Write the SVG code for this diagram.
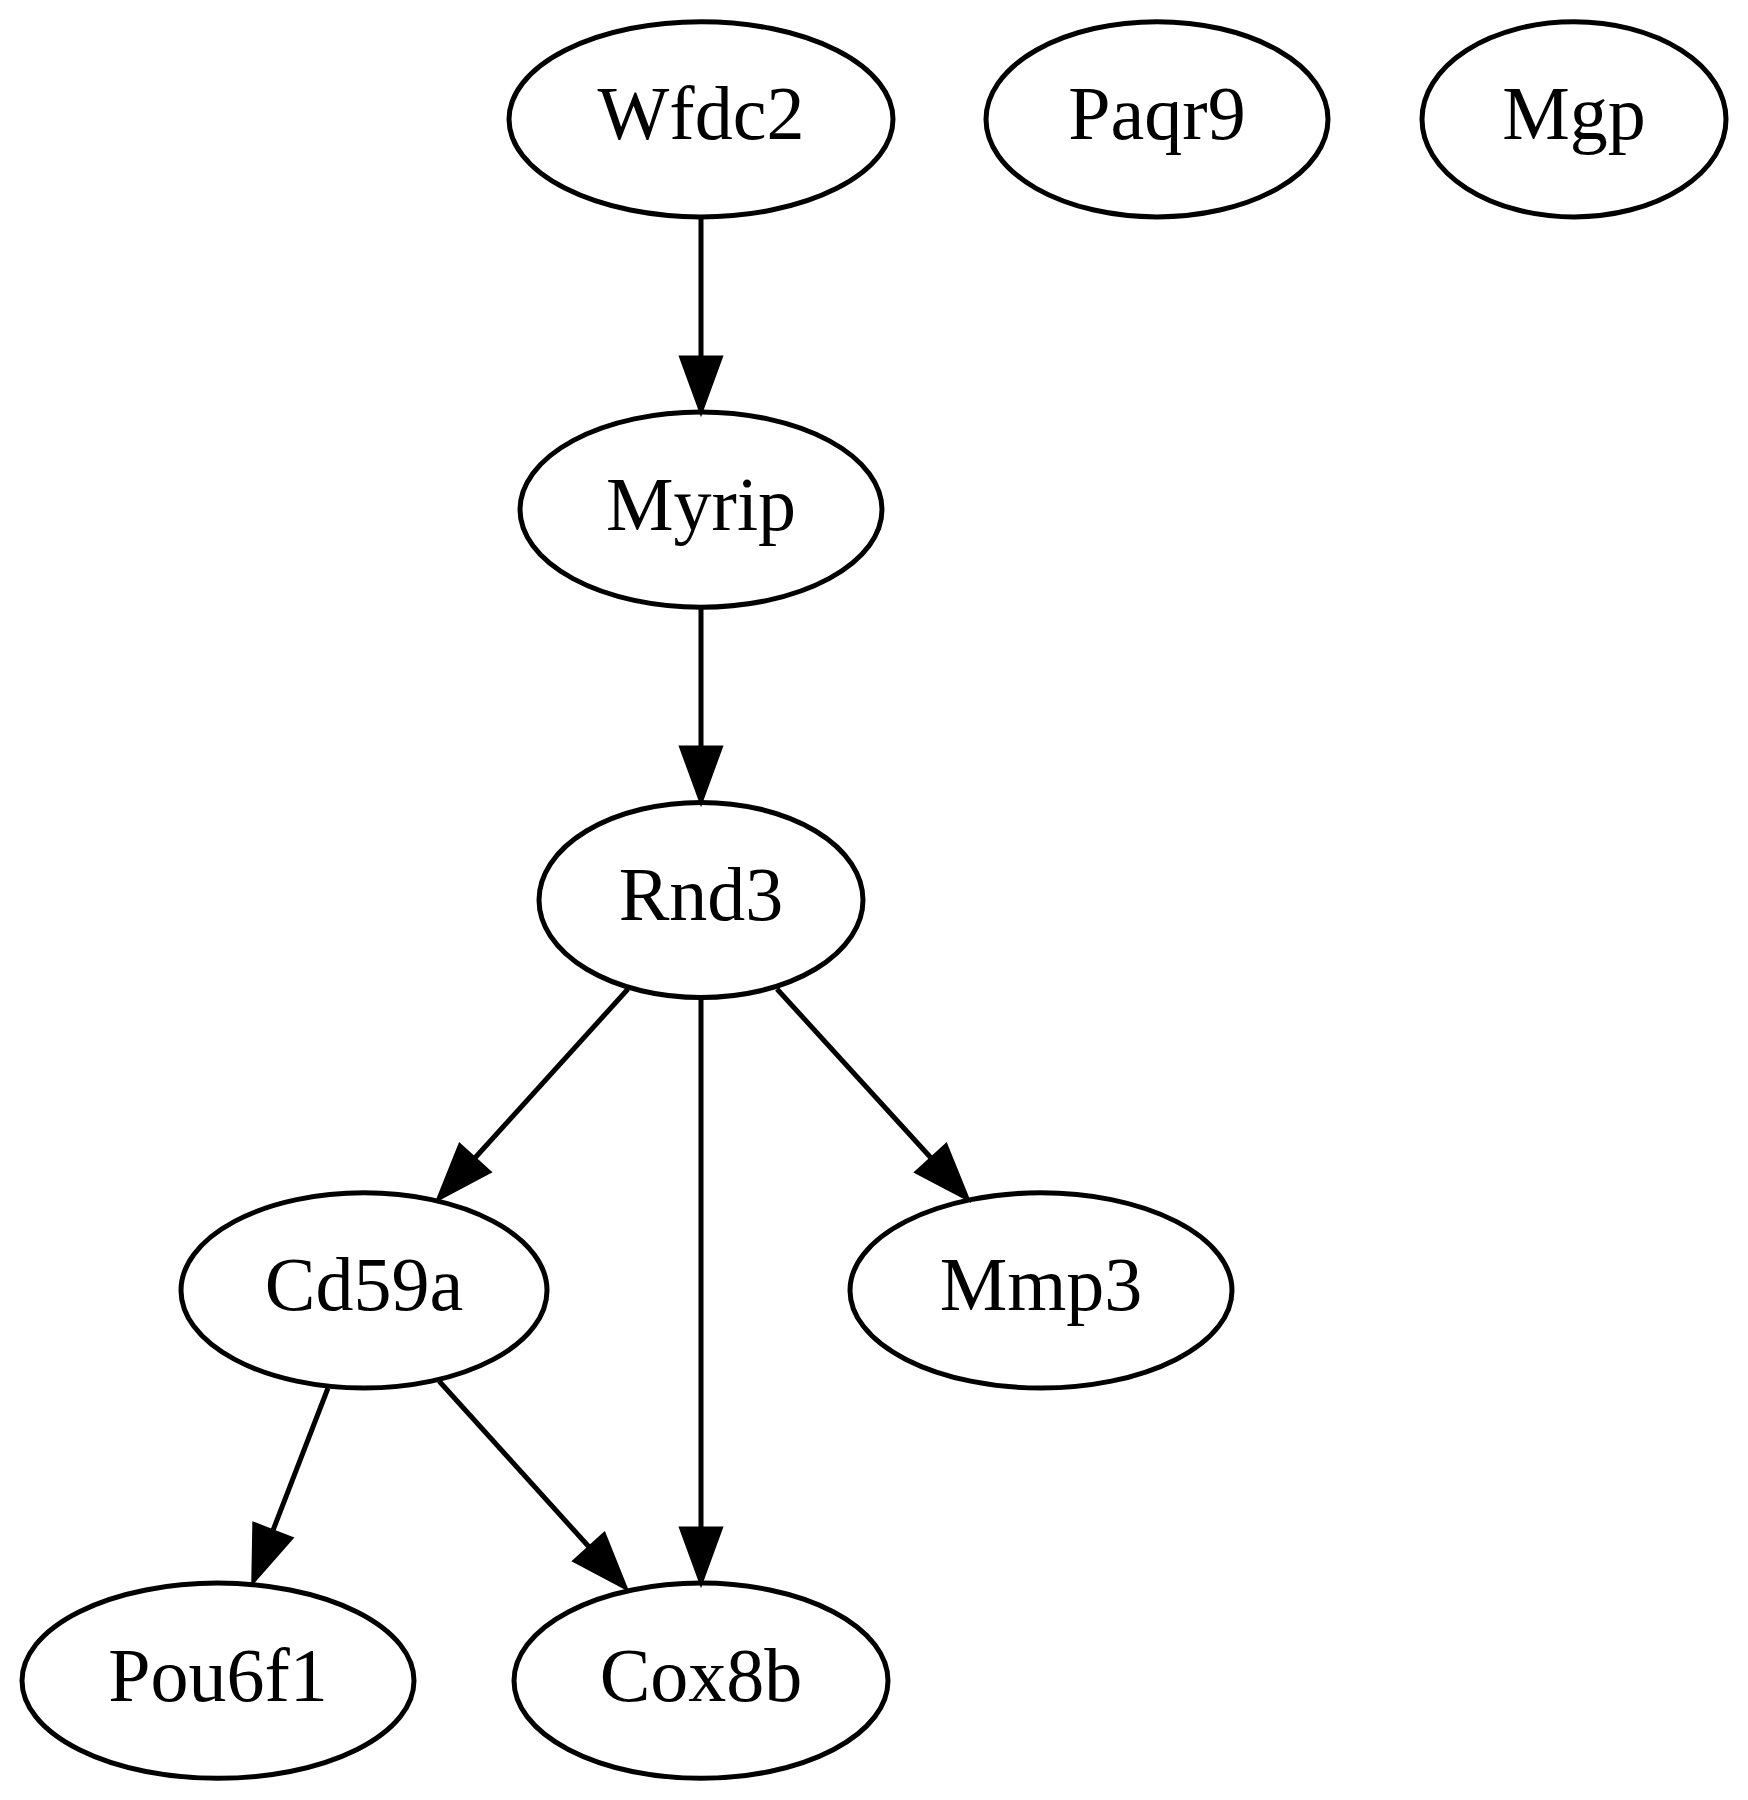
<svg xmlns="http://www.w3.org/2000/svg" width="1748" height="1800" viewBox="0 0 1748 1800">
<style>
.node ellipse{fill:none;stroke:#000;stroke-width:5}
.node text{font-family:"Liberation Serif","Times New Roman",serif;font-size:76px;text-anchor:middle;fill:#000}
.edge line{stroke:#000;stroke-width:5}
.edge polygon{fill:#000;stroke:#000;stroke-width:5}
</style>
<rect width="1748" height="1800" fill="#fff"/>
<g id="nodes">
<g id="Wfdc2" class="node"><ellipse cx="701" cy="119.3" rx="192" ry="97.6"/><text x="701" y="139.3">Wfdc2</text></g>
<g id="Paqr9" class="node"><ellipse cx="1157" cy="119.3" rx="171" ry="97.6"/><text x="1157" y="139.3">Paqr9</text></g>
<g id="Mgp" class="node"><ellipse cx="1574" cy="119.3" rx="152" ry="97.6"/><text x="1574" y="139.3">Mgp</text></g>
<g id="Myrip" class="node"><ellipse cx="701" cy="509.6" rx="181" ry="97.6"/><text x="701" y="529.6">Myrip</text></g>
<g id="Rnd3" class="node"><ellipse cx="701" cy="900" rx="162" ry="97.6"/><text x="701" y="920">Rnd3</text></g>
<g id="Cd59a" class="node"><ellipse cx="364" cy="1290.4" rx="183" ry="97.6"/><text x="364" y="1310.4">Cd59a</text></g>
<g id="Mmp3" class="node"><ellipse cx="1041" cy="1290.4" rx="191" ry="97.6"/><text x="1041" y="1310.4">Mmp3</text></g>
<g id="Pou6f1" class="node"><ellipse cx="218" cy="1680.7" rx="196" ry="97.6"/><text x="218" y="1700.7">Pou6f1</text></g>
<g id="Cox8b" class="node"><ellipse cx="701" cy="1680.7" rx="187" ry="97.6"/><text x="701" y="1700.7">Cox8b</text></g>
</g>
<g id="connectors">
<g class="edge" id="Wfdc2-Myrip"><line x1="701" y1="217" x2="701" y2="358"/><polygon points="682,358 720,358 701,410"/></g>
<g class="edge" id="Myrip-Rnd3"><line x1="701" y1="607" x2="701" y2="748"/><polygon points="682,748 720,748 701,800"/></g>
<g class="edge" id="Rnd3-Cd59a"><line x1="628" y1="989" x2="474" y2="1159"/><polygon points="488.3,1171.8 460.1,1146.3 439.5,1197.5"/></g>
<g class="edge" id="Rnd3-Cox8b"><line x1="701" y1="998" x2="701" y2="1529"/><polygon points="682,1529 720,1529 701,1581"/></g>
<g class="edge" id="Rnd3-Mmp3"><line x1="777" y1="989" x2="932" y2="1159"/><polygon points="945.7,1146.3 917.6,1171.9 966.5,1197.5"/></g>
<g class="edge" id="Cd59a-Pou6f1"><line x1="328" y1="1388" x2="272.5" y2="1531.6"/><polygon points="290.2,1538.5 254.8,1524.8 253.8,1580"/></g>
<g class="edge" id="Cd59a-Cox8b"><line x1="439" y1="1381" x2="590" y2="1548"/><polygon points="603.9,1535.2 575.7,1560.6 624.5,1586.5"/></g>
</g>
</svg>
